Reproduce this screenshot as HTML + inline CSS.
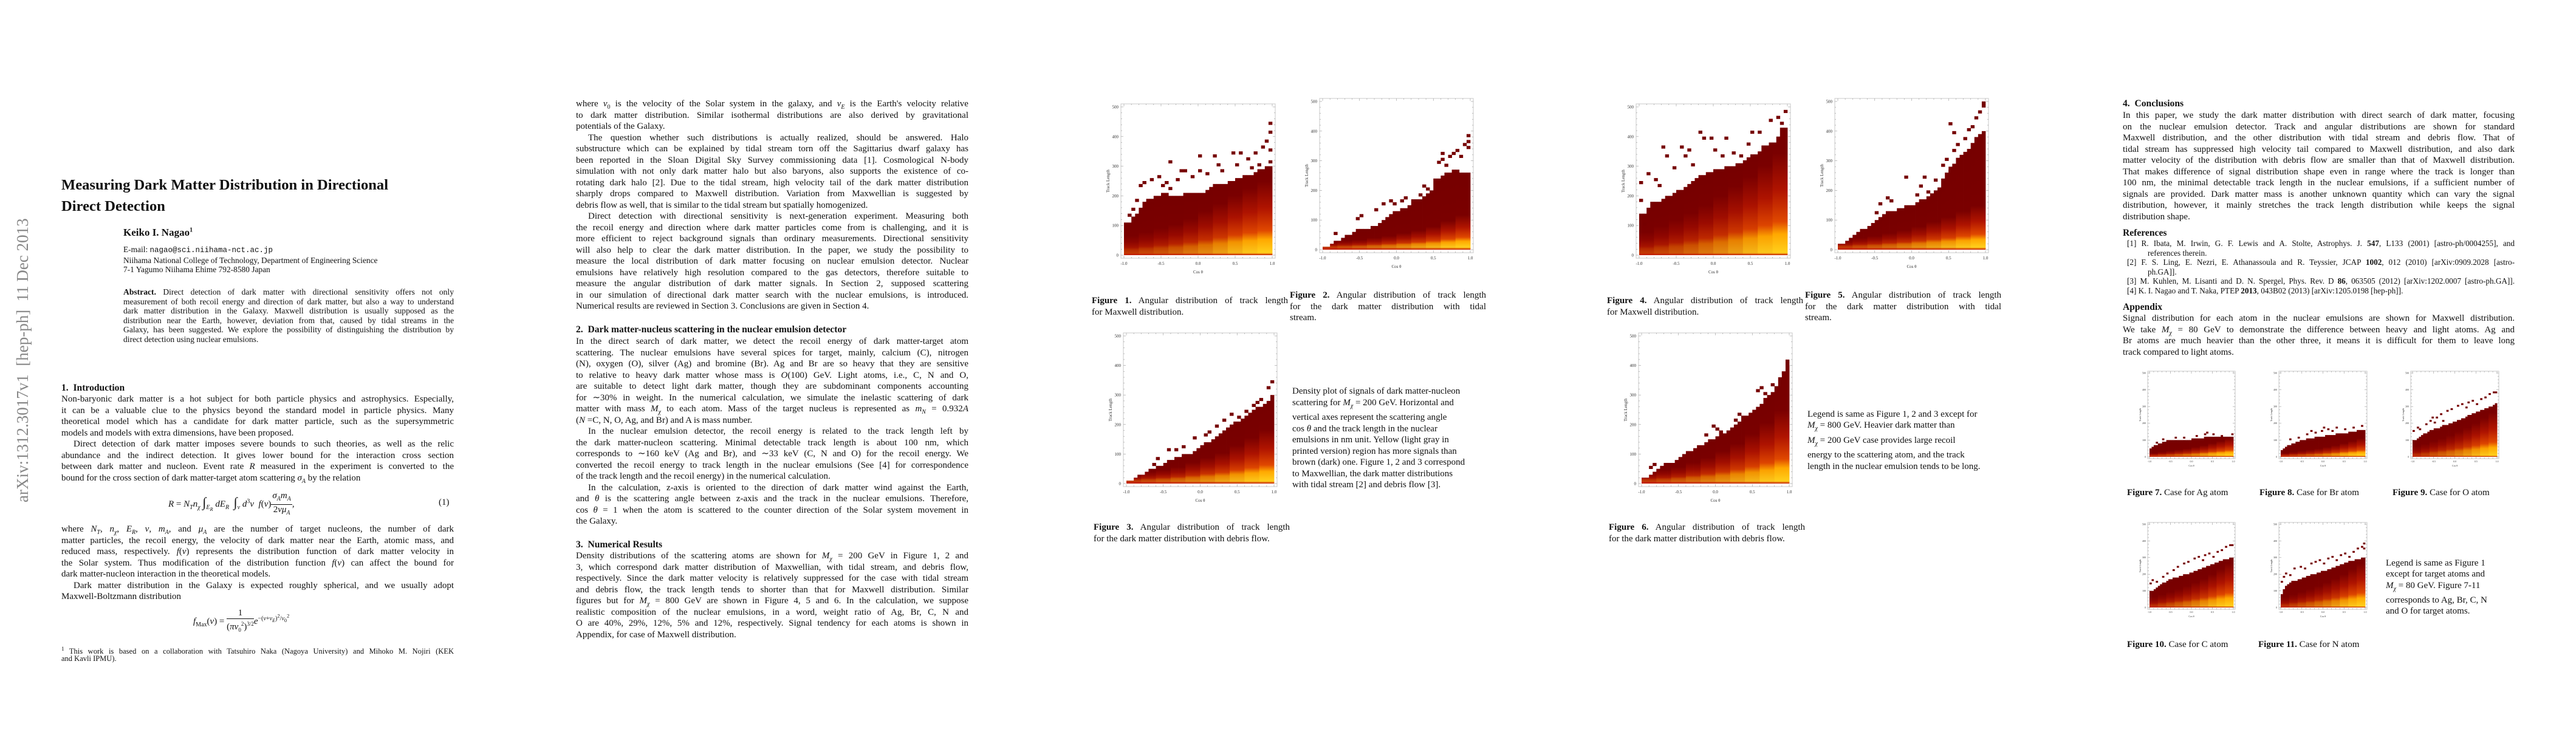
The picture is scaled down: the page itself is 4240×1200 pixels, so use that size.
<!DOCTYPE html>
<html>
<head>
<meta charset="utf-8">
<style>
html,body{margin:0;padding:0;background:#fff;}
body{width:4240px;height:1200px;position:relative;overflow:hidden;font-family:"Liberation Serif",serif;color:#111;}
.p{position:absolute;font-size:15px;line-height:18.5px;}
.l{height:18.5px;text-align:justify;text-align-last:justify;white-space:normal;overflow:visible;}
.e{text-align-last:left;}
.i{text-indent:20px;}
.h{position:absolute;font-weight:bold;font-size:15.6px;line-height:18.5px;white-space:nowrap;}
.cap{position:absolute;font-size:15px;line-height:18.5px;}
.sm{font-size:13.6px;line-height:15.6px;}
.sm .l{height:15.6px;}
b{font-weight:bold;}
.eq{position:absolute;font-size:15px;white-space:nowrap;}
.frac{display:inline-block;vertical-align:middle;text-align:center;}
.frac span{display:block;line-height:17px;}
.frac .num{border-bottom:1px solid #111;padding:0 2px;}
svg text{font-family:"Liberation Serif",serif;}
</style>
</head>
<body>

<div style="position:absolute;left:20px;top:348px;height:490px;width:34px;writing-mode:vertical-rl;transform:rotate(180deg);font-size:27px;color:#888;white-space:nowrap;text-align:center;line-height:34px;">arXiv:1312.3017v1&nbsp; [hep-ph]&nbsp; 11 Dec 2013</div>

<!-- PAGE 1 -->
<div style="position:absolute;left:101px;top:287px;font-weight:bold;font-size:24.6px;line-height:35px;white-space:nowrap;">Measuring Dark Matter Distribution in Directional<br>Direct Detection</div>
<div style="position:absolute;left:203px;top:373px;font-weight:bold;font-size:17px;white-space:nowrap;">Keiko I. Nagao<sup style="font-size:10px">1</sup></div>
<div style="position:absolute;left:203px;top:403px;font-size:13.4px;line-height:15.5px;white-space:nowrap;">E-mail: <span style="font-family:'Liberation Mono',monospace;font-size:12.5px">nagao@sci.niihama-nct.ac.jp</span><br>Niihama National College of Technology, Department of Engineering Science<br>7-1 Yagumo Niihama Ehime 792-8580 Japan</div>
<div class="p sm" style="left:203px;top:473px;width:544px;">
<div class="l"><b>Abstract.</b> Direct detection of dark matter with directional sensitivity offers not only</div>
<div class="l">measurement of both recoil energy and direction of dark matter, but also a way to understand</div>
<div class="l">dark matter distribution in the Galaxy. Maxwell distribution is usually supposed as the</div>
<div class="l">distribution near the Earth, however, deviation from that, caused by tidal streams in the</div>
<div class="l">Galaxy, has been suggested. We explore the possibility of distinguishing the distribution by</div>
<div class="l e">direct detection using nuclear emulsions.</div>
</div>
<div class="h" style="left:101px;top:630px;">1.&nbsp; Introduction</div>
<div class="p" style="left:101px;top:648px;width:646px;">
<div class="l">Non-baryonic dark matter is a hot subject for both particle physics and astrophysics. Especially,</div>
<div class="l">it can be a valuable clue to the physics beyond the standard model in particle physics. Many</div>
<div class="l">theoretical model which has a candidate for dark matter particle, such as the supersymmetric</div>
<div class="l e">models and models with extra dimensions, have been proposed.</div>
<div class="l i">Direct detection of dark matter imposes severe bounds to such theories, as well as the relic</div>
<div class="l">abundance and the indirect detection. It gives lower bound for the interaction cross section</div>
<div class="l">between dark matter and nucleon. Event rate <i>R</i> measured in the experiment is converted to the</div>
<div class="l e">bound for the cross section of dark matter-target atom scattering <i>σ<sub style="font-size:10px">A</sub></i> by the relation</div>
</div>
<div class="eq" style="left:277px;top:808px;"><i>R</i> = <i>N<sub style="font-size:10px">T</sub>n<sub style="font-size:10px">χ</sub></i> <span style="font-size:22px">∫</span><sub style="font-size:10px"><i>E<sub>R</sub></i></sub> <i>dE<sub style="font-size:10px">R</sub></i> &nbsp;<span style="font-size:22px">∫</span><sub style="font-size:10px"><i>v</i></sub> <i>d</i><sup style="font-size:10px">3</sup><i>v</i> &nbsp;<i>f</i>(<i>v</i>)<span class="frac"><span class="num"><i>σ<sub style="font-size:10px">A</sub>m<sub style="font-size:10px">A</sub></i></span><span>2<i>vμ<sub style="font-size:10px">A</sub></i></span></span>,</div>
<div class="eq" style="left:722px;top:819px;">(1)</div>
<div class="p" style="left:101px;top:862px;width:646px;">
<div class="l">where <i>N<sub style="font-size:10px">T</sub></i>, <i>n<sub style="font-size:10px">χ</sub></i>, <i>E<sub style="font-size:10px">R</sub></i>, <i>v</i>, <i>m<sub style="font-size:10px">A</sub></i>, and <i>μ<sub style="font-size:10px">A</sub></i> are the number of target nucleons, the number of dark</div>
<div class="l">matter particles, the recoil energy, the velocity of dark matter near the Earth, atomic mass, and</div>
<div class="l">reduced mass, respectively. <i>f</i>(<i>v</i>) represents the distribution function of dark matter velocity in</div>
<div class="l">the Solar system. Thus modification of the distribution function <i>f</i>(<i>v</i>) can affect the bound for</div>
<div class="l e">dark matter-nucleon interaction in the theoretical models.</div>
<div class="l i">Dark matter distribution in the Galaxy is expected roughly spherical, and we usually adopt</div>
<div class="l e">Maxwell-Boltzmann distribution</div>
</div>
<div class="eq" style="left:318px;top:1001px;"><i>f</i><sub style="font-size:10px">Max</sub>(<i>v</i>) = <span class="frac"><span class="num">1</span><span>(<i>πv</i><sub style="font-size:9px">0</sub><sup style="font-size:9px">2</sup>)<sup style="font-size:9px">3/2</sup></span></span><i>e</i><sup style="font-size:10px">−(<i>v</i>+<i>v<sub>E</sub></i>)<sup>2</sup>/<i>v</i><sub>0</sub><sup>2</sup></sup></div>
<div class="p sm" style="left:101px;top:1061px;width:646px;font-size:12.5px;">
<div class="l"><sup style="font-size:9px">1</sup> This work is based on a collaboration with Tatsuhiro Naka (Nagoya University) and Mihoko M. Nojiri (KEK</div>
<div class="l e">and Kavli IPMU).</div>
</div>

<!-- PAGE 2 -->
<div class="p" style="left:948px;top:162px;width:646px;">
<div class="l">where <i>v</i><sub style="font-size:10px">0</sub> is the velocity of the Solar system in the galaxy, and <i>v<sub style="font-size:10px">E</sub></i> is the Earth's velocity relative</div>
<div class="l">to dark matter distribution. Similar isothermal distributions are also derived by gravitational</div>
<div class="l e">potentials of the Galaxy.</div>
<div class="l i">The question whether such distributions is actually realized, should be answered. Halo</div>
<div class="l">substructure which can be explained by tidal stream torn off the Sagittarius dwarf galaxy has</div>
<div class="l">been reported in the Sloan Digital Sky Survey commissioning data [1]. Cosmological N-body</div>
<div class="l">simulation with not only dark matter halo but also baryons, also supports the existence of co-</div>
<div class="l">rotating dark halo [2]. Due to the tidal stream, high velocity tail of the dark matter distribution</div>
<div class="l">sharply drops compared to Maxwell distribution. Variation from Maxwellian is suggested by</div>
<div class="l e">debris flow as well, that is similar to the tidal stream but spatially homogenized.</div>
<div class="l i">Direct detection with directional sensitivity is next-generation experiment. Measuring both</div>
<div class="l">the recoil energy and direction where dark matter particles come from is challenging, and it is</div>
<div class="l">more efficient to reject background signals than ordinary measurements. Directional sensitivity</div>
<div class="l">will also help to clear the dark matter distribution. In the paper, we study the possibility to</div>
<div class="l">measure the local distribution of dark matter focusing on nuclear emulsion detector. Nuclear</div>
<div class="l">emulsions have relatively high resolution compared to the gas detectors, therefore suitable to</div>
<div class="l">measure the angular distribution of dark matter signals. In Section 2, supposed scattering</div>
<div class="l">in our simulation of directional dark matter search with the nuclear emulsions, is introduced.</div>
<div class="l e">Numerical results are reviewed in Section 3. Conclusions are given in Section 4.</div>
</div>
<div class="h" style="left:948px;top:534px;">2.&nbsp; Dark matter-nucleus scattering in the nuclear emulsion detector</div>
<div class="p" style="left:948px;top:553px;width:646px;">
<div class="l">In the direct search of dark matter, we detect the recoil energy of dark matter-target atom</div>
<div class="l">scattering. The nuclear emulsions have several spices for target, mainly, calcium (C), nitrogen</div>
<div class="l">(N), oxygen (O), silver (Ag) and bromine (Br). Ag and Br are so heavy that they are sensitive</div>
<div class="l">to relative to heavy dark matter whose mass is <i>O</i>(100) GeV. Light atoms, i.e., C, N and O,</div>
<div class="l">are suitable to detect light dark matter, though they are subdominant components accounting</div>
<div class="l">for ∼30% in weight. In the numerical calculation, we simulate the inelastic scattering of dark</div>
<div class="l">matter with mass <i>M<sub style="font-size:10px">χ</sub></i> to each atom. Mass of the target nucleus is represented as <i>m<sub style="font-size:10px">N</sub></i> = 0.932<i>A</i></div>
<div class="l e">(<i>N</i> =C, N, O, Ag, and Br) and A is mass number.</div>
<div class="l i">In the nuclear emulsion detector, the recoil energy is related to the track length left by</div>
<div class="l">the dark matter-nucleon scattering. Minimal detectable track length is about 100 nm, which</div>
<div class="l">corresponds to ∼160 keV (Ag and Br), and ∼33 keV (C, N and O) for the recoil energy. We</div>
<div class="l">converted the recoil energy to track length in the nuclear emulsions (See [4] for correspondence</div>
<div class="l e">of the track length and the recoil energy) in the numerical calculation.</div>
<div class="l i">In the calculation, z-axis is oriented to the direction of dark matter wind against the Earth,</div>
<div class="l">and <i>θ</i> is the scattering angle between z-axis and the track in the nuclear emulsions. Therefore,</div>
<div class="l">cos <i>θ</i> = 1 when the atom is scattered to the counter direction of the Solar system movement in</div>
<div class="l e">the Galaxy.</div>
</div>
<div class="h" style="left:948px;top:888px;">3.&nbsp; Numerical Results</div>
<div class="p" style="left:948px;top:906px;width:646px;">
<div class="l">Density distributions of the scattering atoms are shown for <i>M<sub style="font-size:10px">χ</sub></i> = 200 GeV in Figure 1, 2 and</div>
<div class="l">3, which correspond dark matter distribution of Maxwellian, with tidal stream, and debris flow,</div>
<div class="l">respectively. Since the dark matter velocity is relatively suppressed for the case with tidal stream</div>
<div class="l">and debris flow, the track length tends to shorter than that for Maxwell distribution. Similar</div>
<div class="l">figures but for <i>M<sub style="font-size:10px">χ</sub></i> = 800 GeV are shown in Figure 4, 5 and 6. In the calculation, we suppose</div>
<div class="l">realistic composition of the nuclear emulsions, in a word, weight ratio of Ag, Br, C, N and</div>
<div class="l">O are 40%, 29%, 12%, 5% and 12%, respectively. Signal tendency for each atoms is shown in</div>
<div class="l e">Appendix, for case of Maxwell distribution.</div>
</div>

<!-- PAGE 3 captions -->
<div class="cap" style="left:1797px;top:486px;width:323px;"><div class="l"><b>Figure 1.</b> Angular distribution of track length</div><div class="l e">for Maxwell distribution.</div></div>
<div class="cap" style="left:2123px;top:477px;width:323px;"><div class="l"><b>Figure 2.</b> Angular distribution of track length</div><div class="l">for the dark matter distribution with tidal</div><div class="l e">stream.</div></div>
<div class="cap" style="left:1800px;top:859px;width:323px;"><div class="l"><b>Figure 3.</b> Angular distribution of track length</div><div class="l e">for the dark matter distribution with debris flow.</div></div>
<div class="cap" style="left:2127px;top:635px;width:330px;line-height:18.5px;">Density plot of signals of dark matter-nucleon<br>scattering for <i>M<sub style="font-size:10px">χ</sub></i> = 200 GeV. Horizontal and<br>vertical axes represent the scattering angle<br>cos <i>θ</i> and the track length in the nuclear<br>emulsions in nm unit. Yellow (light gray in<br>printed version) region has more signals than<br>brown (dark) one. Figure 1, 2 and 3 correspond<br>to Maxwellian, the dark matter distributions<br>with tidal stream [2] and debris flow [3].</div>

<!-- PAGE 4 captions -->
<div class="cap" style="left:2645px;top:486px;width:323px;"><div class="l"><b>Figure 4.</b> Angular distribution of track length</div><div class="l e">for Maxwell distribution.</div></div>
<div class="cap" style="left:2971px;top:477px;width:323px;"><div class="l"><b>Figure 5.</b> Angular distribution of track length</div><div class="l">for the dark matter distribution with tidal</div><div class="l e">stream.</div></div>
<div class="cap" style="left:2648px;top:859px;width:323px;"><div class="l"><b>Figure 6.</b> Angular distribution of track length</div><div class="l e">for the dark matter distribution with debris flow.</div></div>
<div class="cap" style="left:2975px;top:673px;width:340px;line-height:18.4px;">Legend is same as Figure 1, 2 and 3 except for<br><i>M<sub style="font-size:10px">χ</sub></i> = 800 GeV. Heavier dark matter than<br><i>M<sub style="font-size:10px">χ</sub></i> = 200 GeV case provides large recoil<br>energy to the scattering atom, and the track<br>length in the nuclear emulsion tends to be long.</div>

<!-- PAGE 5 -->
<div class="h" style="left:3494px;top:162px;">4.&nbsp; Conclusions</div>
<div class="p" style="left:3494px;top:181px;width:645px;">
<div class="l">In this paper, we study the dark matter distribution with direct search of dark matter, focusing</div>
<div class="l">on the nuclear emulsion detector. Track and angular distributions are shown for standard</div>
<div class="l">Maxwell distribution, and the other distribution with tidal stream and debris flow. That of</div>
<div class="l">tidal stream has suppressed high velocity tail compared to Maxwell distribution, and also dark</div>
<div class="l">matter velocity of the distribution with debris flow are smaller than that of Maxwell distribution.</div>
<div class="l">That makes difference of signal distribution shape even in range where the track is longer than</div>
<div class="l">100 nm, the minimal detectable track length in the nuclear emulsions, if a sufficient number of</div>
<div class="l">signals are provided. Dark matter mass is another unknown quantity which can vary the signal</div>
<div class="l">distribution, however, it mainly stretches the track length distribution while keeps the signal</div>
<div class="l e">distribution shape.</div>
</div>
<div class="h" style="left:3494px;top:375px;">References</div>
<div class="p sm" style="left:3501px;top:393px;width:638px;font-size:13.2px;line-height:15.5px;">
<div class="l">[1] R. Ibata, M. Irwin, G. F. Lewis and A. Stolte, Astrophys. J. <b>547</b>, L133 (2001) [astro-ph/0004255], and</div>
<div class="l e" style="padding-left:34px">references therein.</div>
<div class="l">[2] F. S. Ling, E. Nezri, E. Athanassoula and R. Teyssier, JCAP <b>1002</b>, 012 (2010) [arXiv:0909.2028 [astro-</div>
<div class="l e" style="padding-left:34px">ph.GA]].</div>
<div class="l">[3] M. Kuhlen, M. Lisanti and D. N. Spergel, Phys. Rev. D <b>86</b>, 063505 (2012) [arXiv:1202.0007 [astro-ph.GA]].</div>
<div class="l e">[4] K. I. Nagao and T. Naka, PTEP <b>2013</b>, 043B02 (2013) [arXiv:1205.0198 [hep-ph]].</div>
</div>
<div class="h" style="left:3494px;top:497px;">Appendix</div>
<div class="p" style="left:3494px;top:515px;width:645px;">
<div class="l">Signal distribution for each atom in the nuclear emulsions are shown for Maxwell distribution.</div>
<div class="l">We take <i>M<sub style="font-size:10px">χ</sub></i> = 80 GeV to demonstrate the difference between heavy and light atoms. Ag and</div>
<div class="l">Br atoms are much heavier than the other three, it means it is difficult for them to leave long</div>
<div class="l e">track compared to light atoms.</div>
</div>
<div class="cap" style="left:3501px;top:802px;white-space:nowrap;"><b>Figure 7.</b> Case for Ag atom</div>
<div class="cap" style="left:3719px;top:802px;white-space:nowrap;"><b>Figure 8.</b> Case for Br atom</div>
<div class="cap" style="left:3938px;top:802px;white-space:nowrap;"><b>Figure 9.</b> Case for O atom</div>
<div class="cap" style="left:3501px;top:1052px;white-space:nowrap;"><b>Figure 10.</b> Case for C atom</div>
<div class="cap" style="left:3717px;top:1052px;white-space:nowrap;"><b>Figure 11.</b> Case for N atom</div>
<div class="cap" style="left:3927px;top:918px;line-height:18.3px;white-space:nowrap;">Legend is same as Figure 1<br>except for target atoms and<br><i>M<sub style="font-size:10px">χ</sub></i> = 80 GeV. Figure 7-11<br>corresponds to Ag, Br, C, N<br>and O for target atoms.</div>

<svg id="plots" width="4240" height="1200" style="position:absolute;left:0;top:0;" xmlns="http://www.w3.org/2000/svg"><defs id="grads"></defs></svg>

<script>
// ---- data: column top (nm) for 40 cos-theta bins from -1 to 1 ----
const xTickLabels = ['-1.0','-0.5','0.0','0.5','1.0'];
const xTickValues = [-1,-0.5,0,0.5,1];
const yTickValues = [0,100,200,300,400,500];

const fig1Top = [110,110,130,140,160,180,190,190,200,200,210,210,200,200,200,200,210,210,210,210,210,210,220,230,240,240,240,240,250,250,260,260,270,270,270,280,290,290,300,300];
const fig1Hot = [18,22,26,30,36,44,52,60,68,75];
const fig1Peak = [0.15,0.22,0.3,0.4,0.5,0.6,0.72,0.85,0.95,1.0];
const fig1Out = [[-0.95,130],[-0.9,150],[-0.85,180],[-0.8,230],[-0.75,240],[-0.65,250],[-0.55,260],[-0.5,230],[-0.45,240],[-0.4,220],[-0.4,310],[-0.3,250],[-0.25,280],[-0.2,280],[-0.1,260],[0,280],[0,330],[0.1,270],[0.2,330],[0.25,300],[0.3,280],[0.45,340],[0.5,300],[0.55,340],[0.65,320],[0.7,290],[0.75,340],[0.8,300],[0.85,360],[0.9,380],[0.95,350],[1.0,440],[1.0,410],[1.0,310]];

const fig2Top = [10,10,20,30,30,40,50,50,60,70,70,70,70,80,80,90,100,110,120,130,130,140,140,150,160,170,170,180,190,200,240,240,250,260,260,270,270,260,260,260];
const fig2Hot = [6,7,8,10,12,15,18,22,28,34];
const fig2Peak = [0.15,0.25,0.35,0.45,0.55,0.65,0.75,0.85,0.95,1.0];
const fig2Out = [[-0.85,50],[-0.55,100],[-0.5,110],[-0.3,130],[-0.2,150],[-0.1,160],[-0.05,150],[0.05,160],[0.1,170],[0.2,160],[0.3,180],[0.35,210],[0.4,200],[0.55,290],[0.6,300],[0.6,320],[0.65,280],[0.7,310],[0.75,320],[0.8,330],[0.85,310],[0.9,350],[0.95,360],[0.95,380],[1.0,340]];

const fig3Top = [10,10,20,30,30,40,50,50,60,60,70,80,80,90,90,100,100,100,110,120,130,140,140,150,160,170,180,190,200,210,210,220,230,240,250,260,260,270,280,300];
const fig3Hot = [8,10,12,15,20,25,30,38,46,55];
const fig3Peak = [0.15,0.25,0.35,0.45,0.55,0.65,0.75,0.85,0.95,1.0];
const fig3Out = [[-0.65,60],[-0.6,80],[-0.45,110],[-0.35,110],[-0.25,120],[-0.1,150],[0.05,160],[0.1,170],[0.2,190],[0.3,210],[0.4,230],[0.5,220],[0.6,240],[0.7,260],[0.75,270],[0.8,280],[0.9,320],[0.95,340]];

const fig4Top = [140,140,160,180,180,180,190,200,200,210,220,220,230,240,250,260,270,270,280,280,290,290,290,300,300,300,310,310,320,330,340,340,350,360,370,380,380,400,430,430];
const fig4Hot = [22,28,35,42,50,60,70,80,92,105];
const fig4Peak = [0.15,0.22,0.3,0.4,0.5,0.6,0.72,0.85,0.95,1.0];
const fig4Out = [[-1,180],[-1,240],[-0.95,100],[-0.9,270],[-0.8,250],[-0.75,230],[-0.7,360],[-0.65,330],[-0.55,290],[-0.45,360],[-0.4,330],[-0.35,350],[-0.3,300],[-0.2,410],[-0.15,390],[-0.05,390],[0,350],[0.1,330],[0.15,390],[0.25,340],[0.35,330],[0.45,370],[0.5,410],[0.6,410],[0.65,360],[0.75,450],[0.85,460],[0.9,440],[0.95,480]];

const fig5Top = [20,20,30,40,50,60,70,70,80,90,100,110,120,130,130,130,140,140,150,150,150,160,170,170,180,190,200,210,240,260,280,290,310,320,330,340,360,380,390,400];
const fig5Hot = [8,10,12,15,18,22,27,32,38,44];
const fig5Peak = [0.15,0.25,0.35,0.45,0.55,0.65,0.75,0.85,0.95,1.0];
const fig5Out = [[-0.5,120],[-0.45,150],[-0.35,170],[-0.3,160],[-0.1,240],[0.05,180],[0.1,210],[0.15,240],[0.2,190],[0.3,230],[0.4,280],[0.45,300],[0.5,260],[0.5,420],[0.55,330],[0.55,390],[0.6,350],[0.7,370],[0.75,400],[0.8,410],[0.85,440],[0.9,460],[0.95,480],[1,490]];

const fig6Top = [20,20,30,40,50,60,70,70,70,80,90,100,110,110,120,130,130,140,150,150,160,170,170,180,190,200,210,220,230,240,250,260,270,290,300,310,330,350,380,400];
const fig6Hot = [10,12,15,20,25,32,40,50,62,75];
const fig6Peak = [0.15,0.25,0.35,0.45,0.55,0.65,0.75,0.85,0.95,1.0];
const fig6Out = [[-0.9,50],[-0.85,60],[-0.15,160],[-0.05,190],[0.0,180],[0.05,170],[0.25,210],[0.3,230],[0.35,220],[0.55,310],[0.6,320],[0.65,300],[0.75,330],[0.85,350],[0.9,370],[0.95,400],[1,410]];

const fig7Top = [50,60,70,70,80,80,90,90,100,100,100,100,100,100,100,100,100,100,100,100,110,110,110,110,110,110,120,120,120,120,120,120,120,120,120,120,120,120,120,120];
const fig7Hot = [5,7,9,11,13,16,19,23,27,32];
const fig7Peak = [0.1,0.2,0.3,0.4,0.5,0.6,0.72,0.85,0.95,1.0];
const fig7Out = [[-0.85,80],[-0.7,100],[-0.4,110],[-0.2,110],[0.1,120],[0.3,130],[0.35,140],[0.5,130],[0.7,120],[1,130]];

const fig8Top = [40,50,60,70,70,80,80,90,90,100,100,100,110,110,110,110,120,120,120,120,120,130,130,130,130,130,140,140,140,140,140,140,150,150,150,150,160,160,160,160];
const fig8Hot = [5,7,9,11,13,16,19,23,27,32];
const fig8Peak = [0.1,0.2,0.3,0.4,0.5,0.6,0.72,0.85,0.95,1.0];
const fig8Out = [[-0.8,100],[-0.6,110],[-0.4,130],[-0.3,150],[-0.2,140],[-0.05,150],[0,170],[0.1,160],[0.2,150],[0.3,170],[0.5,160],[0.7,170],[0.9,180]];

const fig9Top = [100,100,110,120,130,140,140,150,160,160,170,170,170,180,190,190,190,200,200,210,210,220,220,230,230,240,250,250,260,260,270,270,280,280,290,290,300,300,310,320];
const fig9Hot = [18,22,27,32,38,45,52,60,70,80];
const fig9Peak = [0.1,0.2,0.3,0.4,0.5,0.6,0.72,0.85,0.95,1.0];
const fig9Out = [[-1,150],[-0.9,170],[-0.85,160],[-0.7,190],[-0.6,210],[-0.55,230],[-0.5,200],[-0.45,230],[-0.35,250],[-0.3,210],[-0.2,270],[-0.1,280],[0.05,300],[0.15,310],[0.25,290],[0.3,320],[0.4,330],[0.5,310],[0.6,340],[0.7,350],[0.8,370],[0.9,380],[1,380]];

const fig10Top = [100,100,110,120,130,140,150,150,160,170,170,180,180,180,190,190,200,200,200,210,210,220,220,230,230,240,240,250,250,260,260,270,270,280,280,290,290,290,300,300];
const fig10Hot = [18,22,27,32,38,45,52,60,70,80];
const fig10Peak = [0.1,0.2,0.3,0.4,0.5,0.6,0.72,0.85,0.95,1.0];
const fig10Out = [[-1,140],[-0.95,160],[-0.85,150],[-0.7,180],[-0.6,200],[-0.45,220],[-0.35,240],[-0.2,260],[-0.1,270],[0.05,290],[0.15,300],[0.25,280],[0.3,310],[0.4,320],[0.5,300],[0.6,330],[0.7,340],[0.8,360],[0.9,370],[1,370]];

const fig11Top = [80,110,130,140,150,160,160,160,170,170,180,180,190,190,200,200,200,210,210,220,220,220,230,230,240,240,250,250,260,260,270,270,280,280,280,290,290,290,300,300];
const fig11Hot = [18,22,27,32,38,45,52,60,70,80];
const fig11Peak = [0.1,0.2,0.3,0.4,0.5,0.6,0.72,0.85,0.95,1.0];
const fig11Out = [[-1,150],[-0.95,180],[-0.9,200],[-0.8,190],[-0.7,230],[-0.55,240],[-0.45,230],[-0.3,260],[-0.2,270],[-0.1,280],[0,260],[0.1,290],[0.2,300],[0.3,280],[0.4,310],[0.5,320],[0.6,300],[0.7,330],[0.8,350],[0.9,360],[0.95,350],[1,380]];

const charts = [
 {name:'figure-1-plot', fx:1845, fy:171, fw:254, fh:254, top:fig1Top, hot:fig1Hot, peak:fig1Peak, out:fig1Out, small:false},
 {name:'figure-2-plot', fx:2172, fy:162, fw:253, fh:254, top:fig2Top, hot:fig2Hot, peak:fig2Peak, out:fig2Out, small:false},
 {name:'figure-3-plot', fx:1849, fy:548, fw:253, fh:253, top:fig3Top, hot:fig3Hot, peak:fig3Peak, out:fig3Out, small:false},
 {name:'figure-4-plot', fx:2693, fy:171, fw:254, fh:254, top:fig4Top, hot:fig4Hot, peak:fig4Peak, out:fig4Out, small:false},
 {name:'figure-5-plot', fx:3020, fy:162, fw:253, fh:254, top:fig5Top, hot:fig5Hot, peak:fig5Peak, out:fig5Out, small:false},
 {name:'figure-6-plot', fx:2697, fy:548, fw:253, fh:253, top:fig6Top, hot:fig6Hot, peak:fig6Peak, out:fig6Out, small:false},
 {name:'figure-7-plot', fx:3535, fy:611, fw:144, fh:144, top:fig7Top, hot:fig7Hot, peak:fig7Peak, out:fig7Out, small:true},
 {name:'figure-8-plot', fx:3751, fy:611, fw:145, fh:144, top:fig8Top, hot:fig8Hot, peak:fig8Peak, out:fig8Out, small:true},
 {name:'figure-9-plot', fx:3968, fy:611, fw:145, fh:144, top:fig9Top, hot:fig9Hot, peak:fig9Peak, out:fig9Out, small:true},
 {name:'figure-10-plot', fx:3535, fy:860, fw:144, fh:143, top:fig10Top, hot:fig10Hot, peak:fig10Peak, out:fig10Out, small:true},
 {name:'figure-11-plot', fx:3751, fy:860, fw:145, fh:143, top:fig11Top, hot:fig11Hot, peak:fig11Peak, out:fig11Out, small:true}
];

const NS = 'http://www.w3.org/2000/svg';
const svg = document.getElementById('plots');
const defs = document.getElementById('grads');
function hex(c){return [parseInt(c.substr(1,2),16),parseInt(c.substr(3,2),16),parseInt(c.substr(5,2),16)];}
function lerp(a,b,t){const A=hex(a),B=hex(b);return 'rgb('+A.map((v,i)=>Math.round(v+(B[i]-v)*t)).join(',')+')';}
function mk(tag,attrs,parent){const e=document.createElementNS(NS,tag);for(const k in attrs)e.setAttribute(k,attrs[k]);parent.appendChild(e);return e;}
let gid=0;
charts.forEach(c=>{
  const g = mk('g',{},svg);
  
  
  const ins = c.small?3:5;
  const px0=c.fx+ins, px1=c.fx+c.fw-ins, py0=c.fy+c.fh-ins, py1=c.fy+ins;
  const xS=v=>px0+(v+1)/2*(px1-px0);
  const yS=nm=>py0-nm/500*(py0-py1);
  const colW=(px1-px0)/40, rowH=(py0-py1)/50;
  // frame
  const fr = mk('rect',{x:c.fx,y:c.fy,width:c.fw,height:c.fh,fill:'none',stroke:'#c8c8c8','stroke-width':1},g);
  
  
  // minor ticks
  for(let k=0;k<=20;k++){const x=xS(-1+k*0.1);const len=(k%5===0)?4:2;
    mk('line',{x1:x,y1:c.fy+c.fh,x2:x,y2:c.fy+c.fh-len,stroke:'#999','stroke-width':0.6},g);
    mk('line',{x1:x,y1:c.fy,x2:x,y2:c.fy+len,stroke:'#999','stroke-width':0.6},g);}
  for(let k=0;k<=25;k++){const y=yS(k*20);const len=(k%5===0)?4:2;
    mk('line',{x1:c.fx,y1:y,x2:c.fx+len,y2:y,stroke:'#999','stroke-width':0.6},g);
    mk('line',{x1:c.fx+c.fw,y1:y,x2:c.fx+c.fw-len,y2:y,stroke:'#999','stroke-width':0.6},g);}
  // columns
  c.top.forEach((top,i)=>{
    const hot=c.hot[Math.floor(i/4)], pk=c.peak[Math.floor(i/4)];
    const id='gr'+(gid++);
    const lg=mk('linearGradient',{id:id,gradientUnits:'userSpaceOnUse',x1:0,x2:0,y1:yS(0),y2:yS(top)},defs);
    const stops=[[0,'#c21800'],[8,lerp('#b82000','#ffd01c',pk)],[hot*0.6+8,lerp('#a81400','#ffa800',pk)],[hot+8,lerp('#9a0800','#e04800',pk)],[hot*2+8,lerp('#860200','#b01400',pk)],[hot*3.2+8,'#7a0000'],[top,'#760000']];
    let last=0;
    stops.forEach(s=>{let o=Math.min(1,Math.max(last,s[0]/top));last=o;mk('stop',{offset:o,'stop-color':s[1]},lg);});
    const r=mk('rect',{x:xS(-1+i*0.05),y:yS(top),width:colW+0.4,height:yS(0)-yS(top),fill:'url(#'+id+')'},g);
    
    
  });
  // outlier cells
  c.out.forEach(p=>{
    const col=Math.min(39,Math.round((p[0]+1)/0.05));
    const row=Math.floor(p[1]/10);
    const r=mk('rect',{x:xS(-1+col*0.05),y:yS((row+1)*10),width:colW+0.3,height:rowH+0.3,fill:'#760000'},g);
    
    
  });
  // tick labels
  const fs=c.small?4:7;
  xTickValues.forEach((v,k)=>{
    const t=mk('text',{x:xS(v),y:c.fy+c.fh+(c.small?6:11),'font-size':fs,'text-anchor':'middle',fill:'#333'},g);
    t.textContent=xTickLabels[k];
    
    
  });
  yTickValues.forEach(v=>{
    const t=mk('text',{x:c.fx-(c.small?3:4),y:yS(v)+fs*0.35,'font-size':fs,'text-anchor':'end',fill:'#333'},g);
    t.textContent=String(v);
    
    
  });
  const xt=mk('text',{x:(c.fx+c.fx+c.fw)/2,y:c.fy+c.fh+(c.small?13:25),'font-size':fs,'text-anchor':'middle',fill:'#333'},g);
  xt.textContent='Cos θ';
  
  
  const yx=c.fx-(c.small?11:19), yy=c.fy+c.fh*0.5;
  const yt=mk('text',{x:yx,y:yy,'font-size':fs,'text-anchor':'middle',fill:'#333',transform:'rotate(-90 '+yx+' '+yy+')'},g);
  yt.textContent='Track Length';
  
  
});
</script>
</body>
</html>
